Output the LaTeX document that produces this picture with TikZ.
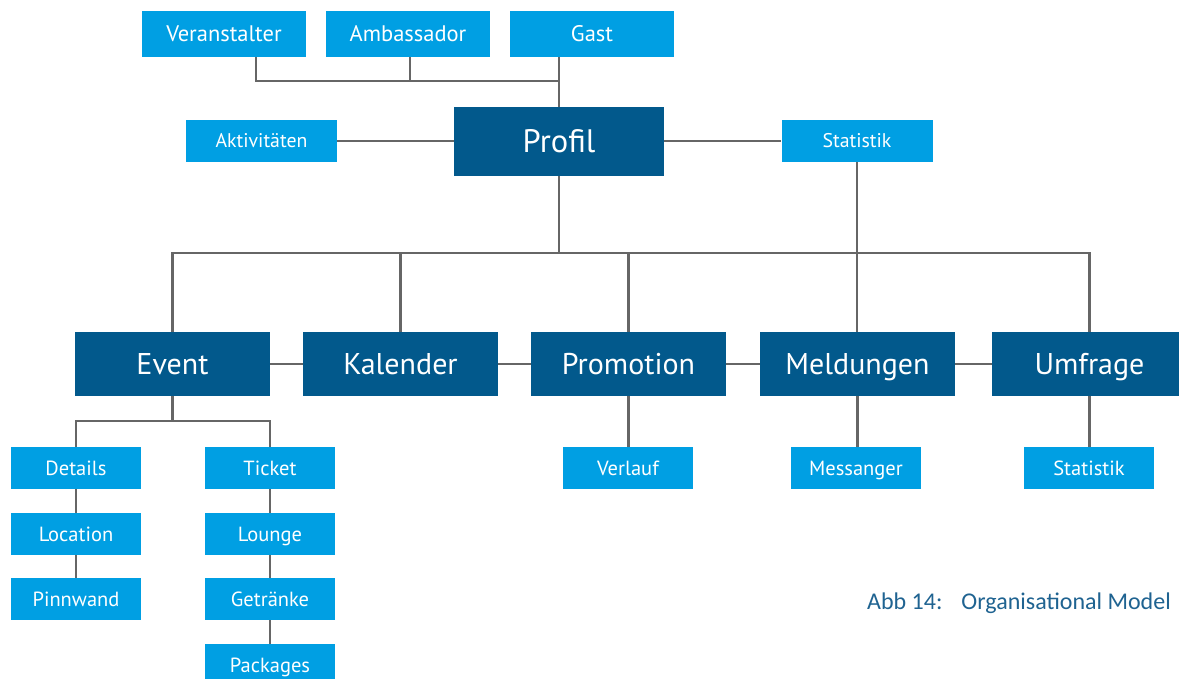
\documentclass[tikz,border=0pt]{standalone}
\usepackage{fontspec}
\setmainfont{PT Sans}
\newfontfamily\capfont{Carlito}
\usetikzlibrary{calc}
\definecolor{lightbox}{HTML}{009FE3}
\definecolor{darkbox}{HTML}{02598C}
\definecolor{linkgray}{HTML}{666666}
\definecolor{captionblue}{HTML}{1F6391}
\tikzset{
  boxbase/.style={rectangle, inner sep=0pt, text=white, anchor=center, text depth=0pt},
  mainbox/.style={boxbase, fill=darkbox, minimum width=195pt, minimum height=64pt, text height=21pt, font=\fontsize{30}{32}\selectfont},
  rootbox/.style={boxbase, fill=darkbox, minimum width=210pt, minimum height=69pt, text height=22.8pt, font=\fontsize{32.5}{34}\selectfont},
  rolebox/.style={boxbase, fill=lightbox, minimum width=164pt, minimum height=46pt, text height=15.8pt, font=\fontsize{22.5}{24}\selectfont},
  sidebox/.style={boxbase, fill=lightbox, minimum width=151pt, minimum height=42pt, text height=13.9pt, font=\fontsize{19.8}{21}\selectfont},
  leafbox/.style={boxbase, fill=lightbox, minimum width=130pt, minimum height=42pt, text height=14.4pt, font=\fontsize{20.5}{22}\selectfont},
  link/.style={draw=linkgray, line width=2.6pt}
}
\begin{document}
\begin{tikzpicture}[x=1pt, y=-1pt]
\clip (0,0) rectangle (1179,679);
\fill[white] (0,0) rectangle (1179,679);

% user roles
\node[rolebox] (ver)  at (224,34) {Veranstalter};
\node[rolebox] (amb)  at (408,34) {Ambassador};
\node[rolebox] (gast) at (592,34) {Gast};

% profile and its side boxes
\node[rootbox] (profil) at (559,141.5) {Profil};
\node[sidebox] (akt)  at (261.5,141) {Aktivitäten};
\node[sidebox] (stat) at (857,141) {Statistik};

% main modules
\node[mainbox] (event) at (172.5,364) {Event};
\node[mainbox] (kal)   at (400.5,364) {Kalender};
\node[mainbox] (promo) at (628.5,364) {Promotion};
\node[mainbox] (meld)  at (857.5,364) {Meldungen};
\node[mainbox] (umf)   at (1089.5,364) {Umfrage};

% event sub-items
\node[leafbox] (details)  at (76,468) {Details};
\node[leafbox] (location) at (76,534) {Location};
\node[leafbox] (pinn)     at (76,599) {Pinnwand};
\node[leafbox] (ticket)   at (270,468) {Ticket};
\node[leafbox] (lounge)   at (270,534) {Lounge};
\node[leafbox] (getr)     at (270,599) {Getränke};
\node[leafbox] (pack)     at (270,665) {Packages};

% module sub-items
\node[leafbox] (verlauf) at (628,468) {Verlauf};
\node[leafbox] (mess)    at (856,468) {Messanger};
\node[leafbox] (stat2)   at (1089,468) {Statistik};

% junction points
\coordinate (vx) at (256,81);
\coordinate (ax) at (410,81);
\coordinate (rolebus) at (559,81);
\coordinate (modbus) at (559,253);
\coordinate (eventbus) at (172.5,421);

% connectors: roles to profile
\draw[link] (ver.south -| vx) -- (vx) -- (rolebus);
\draw[link] (amb.south -| ax) -- (ax);
\draw[link] (gast.south -| rolebus) -- (profil.north);

% profile side links
\draw[link] (akt.east) -- (profil.west |- akt.east);
\draw[link] (profil.east |- stat.west) -- (stat.west);

% profile to modules
\draw[link] (profil.south) -- (modbus);
\draw[link] (event.north) -- (event.north |- modbus) -- (umf.north |- modbus) -- (umf.north);
\draw[link] (kal.north) -- (kal.north |- modbus);
\draw[link] (promo.north) -- (promo.north |- modbus);
\draw[link] (stat.south) -- (stat.south |- meld.north);

% links between modules
\draw[link] (event.east) -- (kal.west);
\draw[link] (kal.east) -- (promo.west);
\draw[link] (promo.east) -- (meld.west);
\draw[link] (meld.east) -- (umf.west);

% event tree
\draw[link] (event.south) -- (eventbus);
\draw[link] (details.north) -- (details.north |- eventbus) -- (ticket.north |- eventbus) -- (ticket.north);
\draw[link] (details.south) -- (location.north);
\draw[link] (location.south) -- (pinn.north);
\draw[link] (ticket.south) -- (lounge.north);
\draw[link] (lounge.south) -- (getr.north);
\draw[link] (getr.south) -- (pack.north);

% module leaves
\draw[link] (promo.south) -- (promo.south |- verlauf.north);
\draw[link] (meld.south) -- (meld.south |- mess.north);
\draw[link] (umf.south) -- (umf.south |- stat2.north);

% caption
\node[anchor=west, text=captionblue, font=\capfont\fontsize{24}{26}\selectfont, inner sep=0pt] (caption) at (867,603) {Abb 14:\hspace{19pt}Organisational Model};
\end{tikzpicture}
\end{document}
